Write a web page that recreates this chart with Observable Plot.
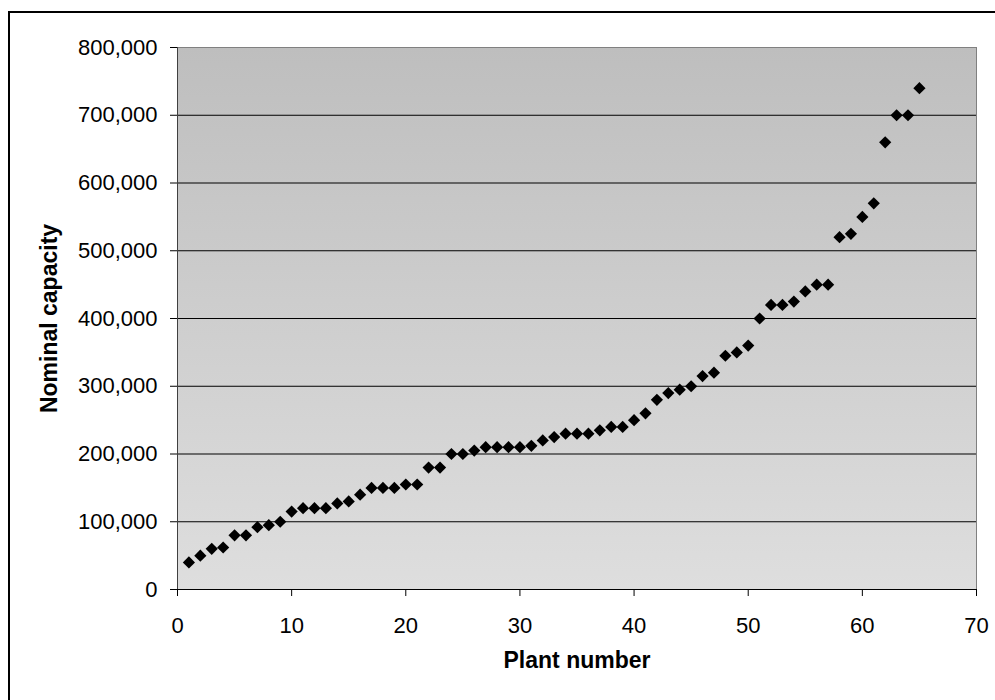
<!DOCTYPE html>
<html>
<head>
<meta charset="utf-8">
<script src="https://cdn.jsdelivr.net/npm/d3@7"></script>
<script src="https://cdn.jsdelivr.net/npm/@observablehq/plot@0.6"></script>
<style>
  body { margin: 0; background: #fff; }
  #wrap { position: relative; width: 995px; height: 700px; overflow: hidden; }
  #wrap svg { position: absolute; left: 0; top: 0; }
  #border { position: absolute; left: 8px; top: 11px; right: -5px; bottom: -5px;
            border-top: 2px solid #000; border-left: 2px solid #000; pointer-events: none; }
</style>
</head>
<body>
<div id="wrap"><div id="border"></div></div>
<script>
// Data
const plantNumber = [1,2,3,4,5,6,7,8,9,10,11,12,13,14,15,16,17,18,19,20,21,22,23,24,25,26,27,28,29,30,31,32,33,34,35,36,37,38,39,40,41,42,43,44,45,46,47,48,49,50,51,52,53,54,55,56,57,58,59,60,61,62,63,64,65];
const capacity = [40000,50000,60000,62000,80000,80000,92000,95000,100000,115000,
  120000,120000,120000,127000,130000,140000,150000,150000,150000,155000,
  155000,180000,180000,200000,200000,205000,210000,210000,210000,210000,
  212000,220000,225000,230000,230000,230000,235000,240000,240000,250000,
  260000,280000,290000,295000,300000,315000,320000,345000,350000,360000,
  400000,420000,420000,425000,440000,450000,450000,520000,525000,550000,
  570000,660000,700000,700000,740000];
const xTicks = [0,10,20,30,40,50,60,70];
const yTicks = [0,100000,200000,300000,400000,500000,600000,700000,800000];
const xTitle = "Plant number";
const yTitle = "Nominal capacity";

const data = plantNumber.map((p, i) => ({plant: p, capacity: capacity[i]}));
const gridValues = yTicks.filter(v => v > 0 && v < 800000);

const defs = () => {
  const d = d3.create("svg:defs");
  const g = d.append("linearGradient").attr("id", "bgGrad")
    .attr("x1", 0).attr("y1", 0).attr("x2", 0).attr("y2", 1);
  g.append("stop").attr("offset", "0%").attr("stop-color", "#bebebe");
  g.append("stop").attr("offset", "100%").attr("stop-color", "#dedede");
  return d.node();
};

const chart = Plot.plot({
  width: 995,
  height: 700,
  marginLeft: 177,
  marginRight: 19,
  marginTop: 47,
  marginBottom: 111,
  x: {domain: [0, 70]},
  y: {domain: [0, 800000]},
  style: {fontFamily: "'Liberation Sans', Arial, sans-serif", fontSize: "22px", color: "#000", background: "transparent", overflow: "visible"},
  marks: [
    defs,
    Plot.frame({fill: "url(#bgGrad)", stroke: "none"}),
    Plot.ruleY(gridValues, {stroke: "#000", strokeWidth: 1}),
    Plot.frame({stroke: "#808080", fill: "none"}),
    Plot.ruleX([0], {stroke: "#404040"}),
    Plot.ruleY([0], {stroke: "#000"}),
    Plot.axisX({ticks: xTicks, tickSize: 7, tickPadding: 21, label: null, fontSize: 22}),
    Plot.axisY({ticks: yTicks, tickFormat: d3.format(","), tickSize: 7, tickPadding: 13, label: null, fontSize: 22}),
    Plot.dot(data, {x: "plant", y: "capacity", symbol: "diamond2", r: 5.5, fill: "#000", stroke: "none"}),
    Plot.text([xTitle], {frameAnchor: "bottom", dy: 78, fontWeight: "bold", fontSize: 23}),
    Plot.text([yTitle], {frameAnchor: "left", textAnchor: "middle", dx: -128, rotate: -90, fontWeight: "bold", fontSize: 23})
  ]
});
document.getElementById("wrap").insertBefore(chart, document.getElementById("border"));
</script>
</body>
</html>
